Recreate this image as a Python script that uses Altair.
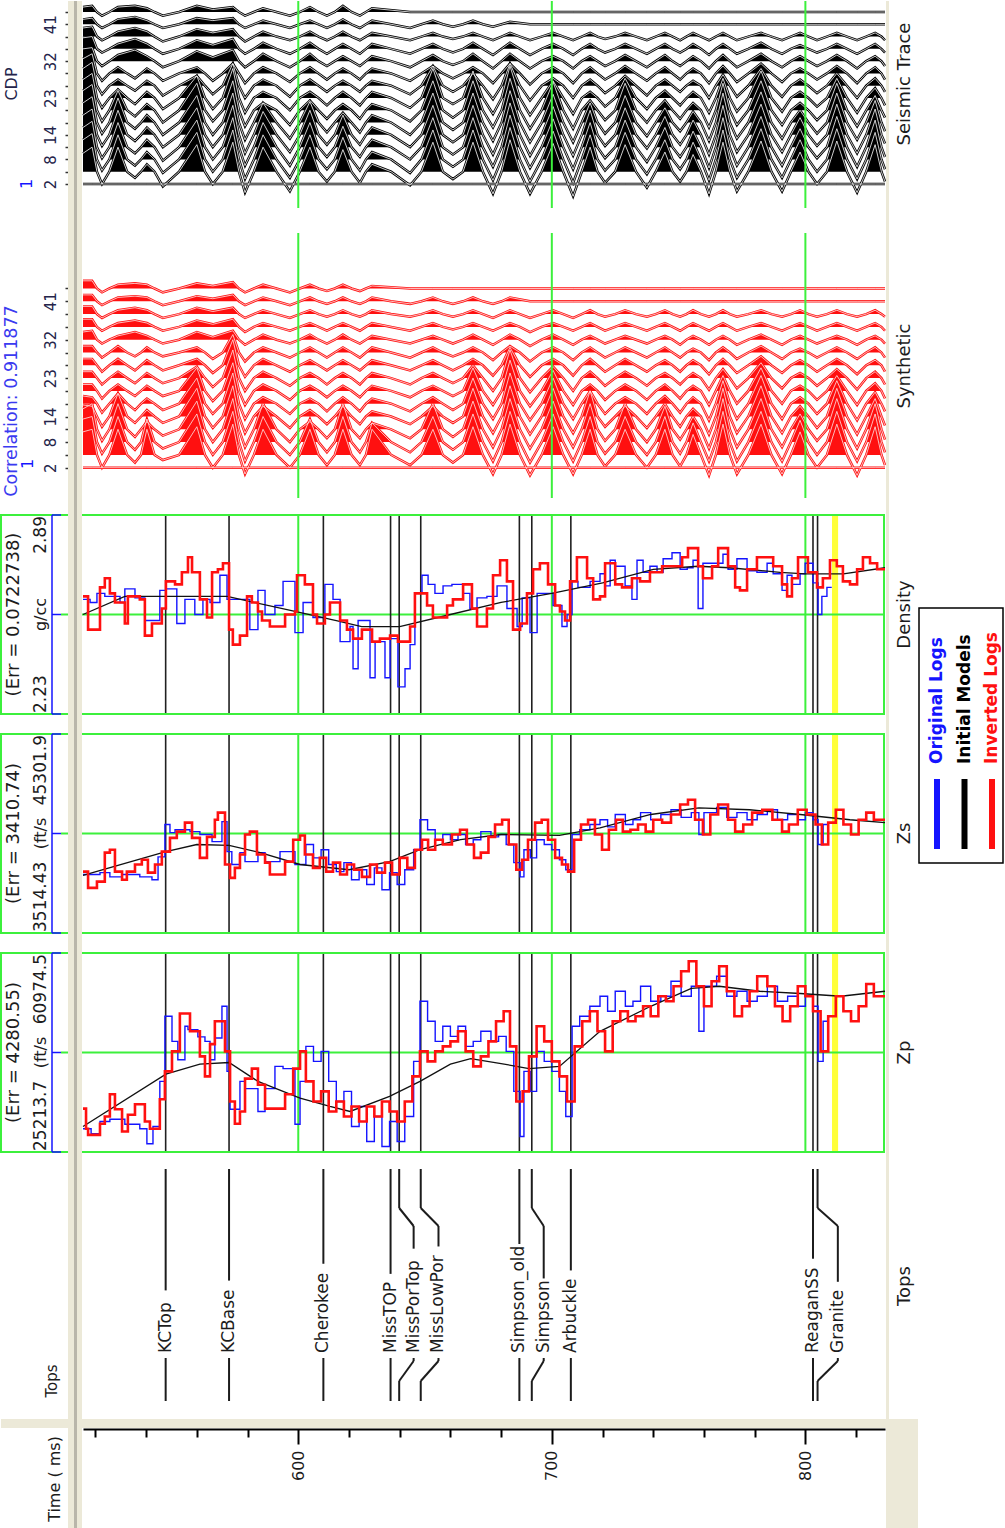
import altair as alt
import pandas as pd

FONT = "DejaVu Sans"
GREEN = "#3cf03c"
BLUE = "#1414ff"
RED = "#ff1010"
BEIGE = "#ece9d8"
INK = "#1c1c1c"
NAVY = "#24244a"

# ------------------------------------------------------------------ time axis
T_MIN, T_MAX = 515.1, 831.4
W = 802
xs = alt.Scale(domain=[T_MIN, T_MAX], nice=False, zero=False)
grid_t = [600, 700, 800]
time_ticks = list(range(520, 821, 20))

# ------------------------------------------------------------------ formation tops
top_names = ["KCTop", "KCBase", "Cherokee", "MissTOP", "MissPorTop", "MissLowPor",
             "Simpson_old", "Simpson", "Arbuckle", "ReaganSS", "Granite"]
top_t = [547.7, 572.7, 609.9, 636.4, 639.8, 648.3, 687.2, 692.1, 707.5, 803.0, 804.8]
top_label_t = [547.7, 572.7, 609.9, 636.4, 645.5, 655.3, 687.2, 696.8, 707.5, 803.0, 812.8]
marker_t = [810.5, 812.9]

# ------------------------------------------------------------------ gathers
trace_cdp = list(range(2, 45, 3))
cdp_labels = [2, 8, 14, 23, 32, 41]

event_t = [515.1, 518.7, 522.6, 528.9, 535.6, 540.3, 546.6, 560.0, 566.3, 574.2,
           579.0, 586.1, 596.7, 604.6, 611.3, 617.6, 624.3, 629.1, 644.1, 653.1,
           661.0, 668.9, 676.8, 683.5, 691.4, 700.5, 708.4, 715.1, 721.0, 728.9,
           737.5, 744.6, 750.6, 755.7, 762.0, 767.5, 773.0, 782.5, 790.8, 797.9,
           804.6, 812.4, 820.4, 827.5, 831.4]
zero_t = [517.0, 520.6, 525.5, 532.5, 538.0, 543.3, 553.0, 563.2, 570.2, 576.6,
          582.5, 591.4, 600.6, 608.0, 614.4, 621.0, 626.7, 636.6, 648.6, 657.0,
          665.0, 672.8, 680.2, 687.4, 696.0, 704.5, 711.8, 718.0, 725.0, 733.2,
          741.0, 747.6, 753.1, 758.8, 764.7, 770.2, 777.5, 786.6, 794.3, 801.2,
          808.5, 816.4, 824.0, 830.0]

# amplitudes at event_t, in trace spacings
seis_amp = {
    5: [1.5, 2.0, -1.0, 2.0, -0.5, 0.6, -1.2, 2.2, -1.0, 2.4,
        -1.7, 2.0, -1.6, 2.0, -0.8, 1.8, -0.9, 0.6, -1.1, 2.4,
        -0.6, 2.4, -1.8, 2.6, -1.8, 2.3, -2.0, 2.0, -0.9, 2.2,
        -1.3, 1.6, -0.8, 1.4, -1.8, 2.4, -1.6, 2.5, -1.6, 1.6,
        -1.0, 2.5, -1.7, 2.2, -0.8],
    8: [1.6, 2.1, -0.9, 2.0, -0.5, 0.6, -1.1, 2.2, -1.0, 2.4,
        -1.6, 2.0, -1.5, 2.0, -0.8, 1.8, -0.9, 0.6, -1.1, 2.4,
        -0.6, 2.4, -1.7, 2.6, -1.8, 2.3, -1.9, 2.0, -0.9, 2.2,
        -1.2, 1.6, -0.8, 1.4, -1.7, 2.4, -1.5, 2.5, -1.5, 1.6,
        -1.0, 2.5, -1.6, 2.2, -0.8],
    11: [1.6, 2.1, -0.9, 2.0, -0.5, 0.6, -1.1, 2.2, -1.0, 2.4,
         -1.5, 2.0, -1.5, 2.0, -0.8, 1.7, -0.8, 0.6, -1.0, 2.4,
         -0.6, 2.4, -1.6, 2.6, -1.7, 2.3, -1.8, 2.0, -0.9, 2.2,
         -1.2, 1.6, -0.8, 1.3, -1.7, 2.4, -1.5, 2.5, -1.5, 1.5,
         -0.9, 2.5, -1.6, 2.2, -0.8],
    14: [1.6, 2.1, -0.9, 2.0, -0.5, 0.6, -1.0, 2.2, -1.0, 2.4,
         -1.5, 1.9, -1.4, 2.0, -0.8, 1.6, -0.8, 0.6, -1.0, 2.4,
         -0.6, 2.4, -1.6, 2.6, -1.7, 2.3, -1.7, 2.0, -0.9, 2.2,
         -1.1, 1.5, -0.8, 1.2, -1.6, 2.4, -1.4, 2.5, -1.4, 1.4,
         -0.9, 2.5, -1.5, 2.1, -0.7],
    17: [1.6, 2.1, -0.9, 2.0, -0.5, 0.6, -1.0, 2.2, -1.0, 2.4,
         -1.4, 1.6, -1.3, 1.7, -0.8, 0.8, -0.8, 0.6, -1.0, 2.4,
         -0.6, 2.4, -1.5, 2.6, -1.6, 2.3, -1.6, 1.6, -0.9, 2.2,
         -1.1, 1.2, -0.7, 0.9, -1.5, 2.4, -1.3, 2.5, -1.3, 1.0,
         -0.9, 2.4, -1.4, 1.8, -0.7],
    20: [1.6, 2.1, -0.9, 1.6, -0.5, 0.5, -1.0, 2.2, -0.9, 2.4,
         -1.3, 0.6, -1.2, 0.8, -0.7, 0.5, -0.7, 0.5, -0.9, 2.4,
         -0.6, 2.4, -1.4, 2.6, -1.5, 2.3, -1.5, 0.8, -0.8, 2.2,
         -1.0, 0.8, -0.7, 0.6, -1.4, 2.2, -1.2, 2.4, -1.2, 0.6,
         -0.8, 2.2, -1.3, 1.2, -0.6],
    23: [1.5, 2.0, -0.8, 0.7, -0.5, 0.5, -0.9, 1.8, -0.9, 2.4,
         -1.2, 0.5, -1.0, 0.5, -0.6, 0.5, -0.6, 0.5, -0.8, 2.4,
         -0.5, 2.2, -1.3, 2.6, -1.4, 1.4, -1.3, 0.5, -0.7, 1.6,
         -0.9, 0.6, -0.6, 0.5, -1.2, 1.6, -1.1, 2.2, -1.1, 0.5,
         -0.7, 1.6, -1.2, 0.8, -0.6],
    26: [1.4, 1.9, -0.7, 0.5, -0.4, 0.4, -0.8, 0.8, -0.7, 1.8,
         -1.0, 0.5, -0.9, 0.5, -0.5, 0.4, -0.5, 0.4, -0.7, 1.6,
         -0.5, 1.0, -1.1, 1.8, -1.2, 0.6, -1.0, 0.5, -0.6, 0.8,
         -0.8, 0.5, -0.5, 0.4, -1.0, 0.9, -0.9, 1.4, -0.9, 0.5,
         -0.6, 1.0, -1.0, 0.6, -0.5],
    29: [1.2, 1.6, -0.6, 0.5, -0.4, 0.4, -0.6, 0.5, -0.6, 0.8,
         -0.8, 0.5, -0.7, 0.5, -0.5, 0.4, -0.5, 0.4, -0.6, 0.6,
         -0.4, 0.5, -0.8, 0.8, -0.9, 0.5, -0.8, 0.5, -0.5, 0.6,
         -0.6, 0.5, -0.5, 0.4, -0.8, 0.6, -0.7, 0.8, -0.7, 0.4,
         -0.5, 0.6, -0.8, 0.5, -0.5],
    32: [1.0, 1.1, -0.4, 0.5, 0.9, 0.4, -0.5, 0.8, 0.3, 0.9,
         -0.5, 0.6, -0.5, 0.6, -0.4, 0.4, -0.4, 0.4, -0.5, 0.5,
         -0.3, 0.6, -0.6, 0.6, -0.6, 0.4, -0.6, 0.4, -0.4, 0.5,
         -0.5, 0.5, -0.4, 0.4, -0.6, 0.5, -0.5, 0.6, -0.5, 0.4,
         -0.4, 0.5, -0.6, 0.4, -0.4],
    35: [0.9, 1.0, -0.3, 0.4, 0.8, 0.4, -0.4, 0.7, 0.3, 0.8,
         -0.4, 0.5, -0.4, 0.5, -0.4, 0.4, -0.4, 0.4, -0.4, 0.4,
         -0.3, 0.5, -0.5, 0.5, -0.5, 0.4, -0.5, 0.4, -0.3, 0.4,
         -0.4, 0.4, -0.3, 0.4, -0.5, 0.4, -0.4, 0.5, -0.4, 0.3,
         -0.3, 0.4, -0.4, 0.4, -0.3],
    38: [0.7, 0.8, -0.3, 0.4, 0.7, 0.4, -0.4, 0.6, 0.3, 0.6,
         -0.4, 0.4, -0.3, 0.4, -0.3, 0.4, -0.3, 0.3, -0.3, 0.3,
         -0.2, 0.3, -0.3, 0.3, -0.3, 0.3, -0.3, 0.3, -0.2, 0.3,
         -0.3, 0.3, -0.3, 0.3, -0.3, 0.3, -0.3, 0.3, -0.3, 0.3,
         -0.3, 0.3, -0.3, 0.3, -0.3],
    41: [0.4, 0.5, -0.3, 0.4, 0.6, 0.3, -0.3, 0.5, 0.3, 0.5,
         -0.3, 0.3, -0.3, 0.3, -0.3, 0.4, -0.3, 0.3, -0.3, 0.3,
         -0.2, 0.3, -0.2, 0.2],
    44: [0.4, 0.5, -0.3, 0.4, 0.5, 0.3, -0.3, 0.5, 0.2, 0.4,
         -0.3, 0.3, -0.3, 0.4, -0.3, 0.5, -0.3, 0.3],
}

syn_amp = {
    5: [1.8, 2.0, -1.0, 2.0, -0.6, 2.0, -0.4, 2.2, -1.0, 2.4,
        -1.5, 2.0, -1.0, 2.0, -0.8, 2.0, -0.8, 2.0, -0.8, 2.0,
        -0.6, 2.2, -1.5, 2.4, -1.6, 2.2, -1.5, 2.0, -0.9, 2.0,
        -1.0, 2.0, -0.9, 1.6, -1.6, 2.4, -1.5, 2.4, -1.5, 1.8,
        -1.0, 2.4, -1.6, 2.2, -0.8],
    8: [1.8, 2.0, -0.9, 2.0, -0.6, 1.8, -0.5, 2.2, -1.0, 2.4,
        -1.5, 2.0, -1.0, 1.8, -0.8, 2.0, -0.8, 1.5, -0.8, 2.0,
        -0.6, 2.2, -1.5, 2.4, -1.6, 2.2, -1.5, 2.0, -0.9, 2.0,
        -1.0, 2.0, -0.9, 1.5, -1.5, 2.4, -1.5, 2.4, -1.5, 1.7,
        -1.0, 2.4, -1.5, 2.2, -0.8],
    11: [1.6, 2.0, -0.9, 2.0, -0.6, 0.6, -0.5, 2.2, -1.0, 2.4,
         -1.4, 2.0, -1.0, 0.6, -0.7, 2.0, -0.7, 0.5, -0.7, 2.0,
         -0.6, 2.2, -1.4, 2.4, -1.5, 2.2, -1.4, 2.0, -0.9, 2.0,
         -1.0, 1.8, -0.8, 1.0, -1.5, 2.4, -1.4, 2.4, -1.4, 1.2,
         -0.9, 2.4, -1.5, 2.0, -0.8],
    14: [0.9, 0.8, -0.8, 1.8, -0.5, 0.5, -0.5, 2.2, -0.9, 2.4,
         -1.3, 0.8, -0.9, 0.5, -0.6, 0.8, -0.6, 0.4, -0.6, 0.8,
         -0.5, 2.2, -1.3, 2.4, -1.4, 2.2, -1.3, 2.0, -0.8, 0.8,
         -0.9, 1.0, -0.8, 0.6, -1.4, 2.2, -1.3, 2.4, -1.3, 0.8,
         -0.9, 2.2, -1.4, 1.4, -0.7],
    17: [0.6, 0.5, -0.7, 0.8, -0.5, 0.4, -0.5, 2.0, -0.8, 2.4,
         -1.2, 0.5, -0.8, 0.4, -0.6, 0.5, -0.6, 0.4, -0.6, 0.5,
         -0.5, 2.0, -1.2, 2.4, -1.3, 2.0, -1.2, 1.0, -0.8, 0.5,
         -0.8, 0.6, -0.7, 0.5, -1.3, 1.8, -1.2, 2.2, -1.2, 0.5,
         -0.8, 1.8, -1.3, 0.9, -0.6],
    20: [0.5, 0.5, -0.6, 0.5, -0.4, 0.4, -0.4, 1.8, -0.8, 2.2,
         -1.1, 0.5, -0.7, 0.4, -0.5, 0.4, -0.5, 0.4, -0.5, 0.4,
         -0.4, 1.8, -1.1, 2.4, -1.2, 1.6, -1.1, 0.5, -0.7, 0.5,
         -0.7, 0.5, -0.6, 0.4, -1.1, 1.2, -1.0, 1.8, -1.0, 0.4,
         -0.7, 1.2, -1.1, 0.6, -0.6],
    23: [0.5, 0.5, -0.5, 0.5, -0.4, 0.4, -0.4, 0.9, -0.7, 2.2,
         -1.0, 0.5, -0.6, 0.4, -0.5, 0.4, -0.5, 0.4, -0.5, 0.4,
         -0.4, 1.0, -1.0, 2.2, -1.1, 0.9, -1.0, 0.5, -0.6, 0.5,
         -0.6, 0.4, -0.5, 0.4, -0.9, 0.7, -0.8, 1.2, -0.8, 0.4,
         -0.6, 0.7, -0.9, 0.5, -0.5],
    26: [0.5, 0.5, -0.5, 0.5, -0.4, 0.4, -0.4, 0.5, -0.6, 2.0,
         -0.9, 0.5, -0.5, 0.4, -0.4, 0.4, -0.4, 0.4, -0.4, 0.4,
         -0.4, 0.5, -0.8, 1.4, -0.9, 0.5, -0.8, 0.5, -0.5, 0.5,
         -0.5, 0.4, -0.5, 0.4, -0.7, 0.5, -0.6, 0.7, -0.6, 0.4,
         -0.5, 0.5, -0.7, 0.4, -0.5],
    29: [0.5, 0.5, -0.4, 0.5, -0.3, 0.4, -0.3, 0.4, -0.5, 1.4,
         -0.7, 0.4, -0.4, 0.4, -0.4, 0.4, -0.4, 0.4, -0.4, 0.4,
         -0.3, 0.4, -0.6, 0.5, -0.7, 0.4, -0.6, 0.4, -0.4, 0.4,
         -0.4, 0.4, -0.4, 0.3, -0.6, 0.4, -0.5, 0.5, -0.5, 0.3,
         -0.4, 0.4, -0.5, 0.4, -0.4],
    32: [0.6, 0.7, -0.3, 0.3, 0.6, 0.3, -0.3, 0.6, 0.2, 0.7,
         -0.4, 0.4, -0.3, 0.4, -0.3, 0.4, -0.3, 0.3, -0.3, 0.3,
         -0.3, 0.4, -0.4, 0.4, -0.5, 0.4, -0.4, 0.3, -0.3, 0.3,
         -0.3, 0.3, -0.4, 0.3, -0.4, 0.3, -0.4, 0.4, -0.4, 0.3,
         -0.3, 0.3, -0.4, 0.3, -0.3],
    35: [0.6, 0.6, -0.3, 0.3, 0.5, 0.3, -0.3, 0.5, 0.2, 0.6,
         -0.4, 0.3, -0.3, 0.3, -0.3, 0.3, -0.3, 0.3, -0.3, 0.3,
         -0.2, 0.3, -0.3, 0.3, -0.4, 0.3, -0.3, 0.3, -0.3, 0.3,
         -0.3, 0.3, -0.3, 0.3, -0.3, 0.3, -0.3, 0.3, -0.3, 0.3,
         -0.3, 0.3, -0.3, 0.3, -0.3],
    38: [0.6, 0.6, -0.3, 0.3, 0.5, 0.3, -0.3, 0.5, 0.2, 0.5,
         -0.3, 0.3, -0.3, 0.3, -0.2, 0.3, -0.2, 0.3, -0.2, 0.3,
         -0.2, 0.3, -0.3, 0.3, -0.3, 0.3, -0.3, 0.3, -0.2, 0.3,
         -0.2, 0.3, -0.2, 0.3, -0.2, 0.3, -0.2, 0.3, -0.2, 0.3,
         -0.2, 0.3, -0.2, 0.3, -0.2],
    41: [0.5, 0.5, -0.3, 0.3, 0.4, 0.3, -0.3, 0.4, 0.2, 0.5,
         -0.3, 0.3, -0.3, 0.3, -0.2, 0.3, -0.2, 0.3, -0.2, 0.3,
         -0.2, 0.3, -0.2, 0.3],
    44: [0.6, 0.6, -0.3, 0.3, 0.4, 0.3, -0.3, 0.4, 0.2, 0.5,
         -0.3, 0.3, -0.3, 0.3, -0.2, 0.3, -0.2, 0.2],
}

# ------------------------------------------------------------------ well logs (time ms, value)
dens_orig = [(515.1, 2.61), (517.9, 2.60), (520.6, 2.63), (523.7, 2.62), (529.7, 2.60), (531.6, 2.645),
             (535.6, 2.615), (539.5, 2.54), (545.4, 2.64), (547.8, 2.645), (552.1, 2.53), (555.3, 2.61),
             (559.2, 2.56), (562.4, 2.61), (565.2, 2.60), (569.1, 2.69), (571.9, 2.61), (580.9, 2.51),
             (584.1, 2.64), (586.9, 2.56), (590.8, 2.59), (594.0, 2.67), (598.7, 2.50), (601.9, 2.60),
             (605.8, 2.55), (610.5, 2.66), (613.7, 2.61), (616.5, 2.47), (620.4, 2.52), (621.6, 2.38),
             (623.6, 2.54), (628.3, 2.35), (630.3, 2.47), (634.2, 2.35), (636.2, 2.48), (639.3, 2.32),
             (642.1, 2.38), (644.1, 2.46), (646.0, 2.63), (648.8, 2.69), (651.2, 2.66), (653.9, 2.63),
             (657.1, 2.655), (660.6, 2.66), (665.0, 2.63), (667.7, 2.58), (670.5, 2.615), (674.4, 2.62),
             (678.4, 2.655), (682.3, 2.58), (686.3, 2.52), (688.3, 2.615), (691.4, 2.50), (694.2, 2.63),
             (700.5, 2.59), (704.0, 2.52), (706.0, 2.56), (708.0, 2.67), (710.3, 2.65), (715.1, 2.67),
             (719.0, 2.695), (721.0, 2.655), (723.0, 2.74), (725.0, 2.72), (728.9, 2.655), (731.6, 2.61),
             (733.6, 2.74), (736.0, 2.70), (738.7, 2.72), (741.5, 2.70), (743.9, 2.745), (747.4, 2.765),
             (750.6, 2.71), (753.4, 2.715), (755.7, 2.74), (757.7, 2.58), (759.6, 2.73), (767.5, 2.76),
             (769.5, 2.71), (773.0, 2.745), (777.0, 2.705), (780.9, 2.70), (784.9, 2.73), (787.3, 2.695),
             (790.8, 2.64), (792.8, 2.69), (794.7, 2.66), (797.9, 2.695), (799.9, 2.73), (803.0, 2.665),
             (805.0, 2.56), (806.5, 2.62), (808.5, 2.65)]
dens_init = [(515.1, 2.56), (531.6, 2.62), (560.0, 2.62), (572.0, 2.62), (598.7, 2.57), (615.0, 2.54),
             (625.0, 2.52), (640.0, 2.52), (660.0, 2.56), (680.0, 2.60), (700.0, 2.63), (720.0, 2.665),
             (740.0, 2.71), (757.7, 2.72), (770.0, 2.715), (790.0, 2.70), (800.0, 2.695), (815.0, 2.695),
             (831.4, 2.715)]
dens_inv = [(515.1, 2.62), (517.1, 2.51), (521.8, 2.65), (523.7, 2.68), (525.7, 2.63), (527.7, 2.60),
            (531.6, 2.53), (532.8, 2.62), (537.5, 2.61), (539.5, 2.49), (542.3, 2.53), (546.2, 2.58),
            (547.8, 2.67), (551.4, 2.66), (554.1, 2.70), (556.5, 2.75), (558.1, 2.70), (561.2, 2.61),
            (564.0, 2.55), (566.0, 2.70), (568.3, 2.71), (570.3, 2.73), (572.7, 2.51), (574.2, 2.46),
            (577.0, 2.49), (579.8, 2.62), (581.7, 2.60), (584.1, 2.57), (585.7, 2.54), (588.8, 2.52),
            (594.8, 2.56), (598.7, 2.57), (599.5, 2.69), (602.6, 2.66), (605.8, 2.56), (607.4, 2.53),
            (610.5, 2.56), (612.5, 2.60), (616.5, 2.54), (619.2, 2.51), (621.6, 2.48), (625.1, 2.51),
            (629.1, 2.47), (632.2, 2.48), (636.2, 2.49), (639.3, 2.47), (644.1, 2.52), (646.0, 2.63),
            (650.8, 2.59), (653.1, 2.55), (658.7, 2.59), (661.0, 2.61), (665.0, 2.66), (668.5, 2.58),
            (670.5, 2.52), (674.4, 2.58), (676.8, 2.69), (679.6, 2.74), (682.3, 2.67), (684.7, 2.51),
            (687.5, 2.53), (690.2, 2.63), (692.6, 2.71), (695.3, 2.73), (698.5, 2.66), (701.3, 2.59),
            (703.2, 2.57), (705.2, 2.54), (707.2, 2.67), (709.9, 2.75), (713.9, 2.68), (716.3, 2.61),
            (719.0, 2.62), (721.0, 2.73), (725.0, 2.66), (727.7, 2.65), (731.6, 2.68), (734.8, 2.67),
            (738.7, 2.70), (743.5, 2.72), (751.4, 2.75), (753.7, 2.78), (757.7, 2.72), (759.6, 2.68),
            (763.2, 2.72), (765.6, 2.78), (769.5, 2.72), (772.3, 2.65), (774.2, 2.64), (777.0, 2.71),
            (780.9, 2.75), (787.3, 2.72), (790.8, 2.66), (792.8, 2.62), (794.7, 2.68), (797.1, 2.75),
            (801.0, 2.70), (804.6, 2.65), (806.9, 2.68), (809.7, 2.74), (812.4, 2.72), (814.8, 2.67),
            (817.6, 2.66), (820.4, 2.71), (822.7, 2.75), (825.5, 2.73), (828.3, 2.71)]

zs_orig = [(515.1, 15800), (521.8, 16200), (525.7, 15300), (530.5, 15800), (537.5, 15300), (542.3, 14700),
           (544.7, 19500), (547.4, 26300), (549.4, 24600), (551.4, 25200), (557.3, 24800), (561.2, 24200),
           (566.0, 22700), (569.9, 26900), (571.9, 20600), (573.8, 17900), (577.0, 20400), (579.0, 18500),
           (584.1, 20400), (586.9, 18500), (592.8, 20600), (598.7, 17900), (603.0, 22100), (606.0, 19300),
           (609.0, 21000), (612.0, 17900), (615.0, 16400), (618.0, 18300), (621.0, 14700), (624.0, 16800),
           (627.0, 13700), (630.0, 17200), (633.0, 12600), (636.0, 16200), (639.0, 13700), (642.0, 16800),
           (645.5, 21000), (648.0, 27300), (651.0, 25200), (654.0, 23100), (657.0, 24200), (660.0, 23100),
           (663.0, 24200), (666.0, 22100), (669.0, 23100), (672.0, 24800), (676.0, 23700), (679.0, 24200),
           (682.0, 22100), (685.0, 18300), (687.5, 15300), (689.0, 21000), (691.5, 19300), (694.0, 23100),
           (697.0, 22100), (700.0, 21000), (703.0, 18900), (705.5, 16800), (708.0, 24200), (711.0, 25200),
           (715.0, 26300), (719.0, 27300), (722.0, 25800), (725.0, 28400), (729.0, 26300), (732.0, 27300),
           (735.0, 28800), (739.0, 27300), (743.0, 28400), (747.0, 29400), (751.0, 27800), (755.0, 28800),
           (758.0, 24200), (760.0, 28800), (765.0, 29900), (769.0, 27800), (773.0, 28800), (777.0, 27300),
           (781.0, 28400), (785.0, 29400), (789.0, 27300), (793.0, 28400), (797.0, 27300), (800.0, 28800),
           (803.0, 27300), (805.0, 22100), (807.0, 26300)]
zs_init = [(515.1, 15600), (547.8, 20600), (560.0, 22100), (572.7, 21900), (585.0, 20400), (600.7, 17900),
           (620.0, 16800), (636.0, 18500), (648.0, 21000), (664.0, 23100), (680.0, 24200), (703.0, 24000),
           (719.0, 25600), (739.0, 28400), (758.0, 29800), (778.0, 29400), (798.0, 28400), (817.6, 27300),
           (831.4, 26700)]
zs_inv = [(515.1, 16400), (517.1, 13000), (520.6, 14300), (523.7, 20400), (525.7, 21000), (527.7, 16400),
          (530.5, 14700), (532.4, 16400), (535.6, 17900), (538.3, 18900), (540.7, 16200), (543.5, 17900),
          (546.2, 20600), (549.4, 23500), (552.1, 24800), (555.3, 26700), (558.1, 23500), (561.2, 19300),
          (564.0, 23700), (567.1, 27300), (568.3, 28800), (571.1, 17900), (573.1, 15100), (575.0, 17200),
          (577.0, 20000), (579.0, 24200), (580.9, 24800), (583.7, 20000), (586.9, 18300), (588.8, 15800),
          (594.8, 18500), (598.0, 23100), (600.7, 24000), (602.6, 20000), (605.8, 17200), (608.5, 19300),
          (611.0, 16400), (613.7, 18300), (616.5, 15800), (619.2, 17900), (622.0, 16800), (625.1, 15300),
          (628.3, 17900), (631.0, 16200), (634.2, 18300), (637.0, 15800), (640.0, 19300), (643.0, 17200),
          (646.0, 21000), (648.8, 23100), (651.2, 21000), (654.0, 23100), (657.0, 22100), (660.6, 24200),
          (663.8, 25200), (666.5, 22100), (669.3, 19300), (672.0, 20400), (675.0, 23700), (677.6, 26300),
          (680.4, 27300), (683.0, 22100), (686.0, 16800), (688.3, 18900), (690.6, 23100), (693.4, 26700),
          (696.0, 27300), (698.5, 23100), (701.3, 19300), (704.0, 17900), (706.4, 16400), (708.8, 23100),
          (711.5, 26300), (714.3, 27300), (717.0, 24200), (719.8, 21000), (722.5, 25200), (725.3, 27300),
          (728.0, 24800), (731.0, 25200), (734.0, 26300), (737.0, 24800), (740.0, 27300), (743.5, 26700),
          (747.0, 28400), (750.6, 30500), (753.7, 31500), (756.5, 27300), (759.6, 24200), (762.5, 28400),
          (765.6, 30500), (769.5, 27300), (772.3, 24800), (775.5, 26300), (779.0, 28800), (783.0, 29400),
          (787.0, 27300), (790.8, 24800), (793.5, 26300), (797.0, 29400), (800.5, 28400), (804.0, 26300),
          (806.5, 22100), (809.0, 26700), (812.0, 29400), (815.0, 26300), (818.0, 24200), (821.0, 27300),
          (824.0, 28800), (827.0, 27300)]

zp_orig = [(515.1, 29400), (518.3, 28500), (521.8, 30700), (525.7, 31100), (531.6, 30200), (537.5, 29400),
           (540.3, 26700), (542.7, 29800), (545.4, 37900), (547.4, 49600), (550.2, 45100), (552.5, 41800),
           (555.3, 47800), (556.5, 47200), (560.4, 45900), (563.2, 45100), (565.2, 41800), (567.1, 45700),
           (569.9, 51400), (571.9, 39700), (573.1, 32900), (577.0, 37900), (579.0, 36600), (584.1, 32500),
           (586.9, 36600), (590.8, 40600), (594.0, 40200), (598.7, 30200), (600.7, 37900), (603.0, 44200),
           (606.0, 41500), (609.0, 43300), (612.0, 37900), (615.0, 34300), (618.0, 36100), (621.0, 29800),
           (624.0, 33400), (627.0, 27100), (630.0, 31600), (633.0, 26200), (636.0, 30700), (639.0, 27100),
           (642.0, 31600), (645.5, 41500), (648.0, 52300), (651.0, 48700), (654.0, 45100), (657.0, 47800),
           (660.0, 46000), (663.0, 47800), (666.0, 44200), (669.0, 45100), (672.0, 46900), (676.0, 45100),
           (679.0, 46000), (682.0, 43300), (685.0, 36100), (687.5, 28000), (689.0, 39700), (691.5, 36100),
           (694.0, 43300), (697.0, 41500), (700.0, 39700), (703.0, 36100), (705.5, 31600), (708.0, 47800),
           (711.0, 49600), (715.0, 51400), (719.0, 53200), (722.0, 50500), (725.0, 54100), (729.0, 51400),
           (732.0, 52300), (735.0, 55000), (739.0, 52300), (743.0, 53200), (747.0, 55900), (751.0, 53200),
           (755.0, 55000), (758.0, 46900), (760.0, 55000), (765.0, 56800), (769.0, 53200), (773.0, 54100),
           (777.0, 52300), (781.0, 53200), (785.0, 55000), (789.0, 52300), (793.0, 53200), (797.0, 51400),
           (800.0, 53200), (803.0, 51400), (805.0, 41500), (807.0, 48700)]
zp_init = [(515.1, 29800), (547.8, 39200), (561.2, 41000), (572.7, 41300), (584.1, 37900), (600.7, 34900),
           (612.5, 33400), (620.4, 32500), (636.0, 35200), (648.0, 37900), (660.0, 41000), (668.0, 42000),
           (680.0, 41100), (691.0, 40200), (703.0, 40600), (719.0, 46900), (739.0, 51400), (755.0, 54600),
           (766.0, 55000), (782.0, 54100), (798.0, 53700), (814.0, 53200), (831.4, 54100)]
zp_inv = [(515.1, 33000), (516.3, 29400), (517.1, 28300), (521.8, 30300), (523.7, 31600), (525.7, 35600),
          (527.7, 32900), (530.5, 28900), (532.8, 31900), (535.6, 33800), (539.5, 30700), (541.5, 29400),
          (545.4, 34700), (547.4, 39700), (550.2, 43300), (553.3, 50100), (557.3, 46900), (561.2, 42400),
          (563.2, 38800), (565.2, 44600), (567.1, 48700), (571.1, 43300), (573.1, 34300), (575.0, 30300),
          (577.0, 32500), (579.0, 38400), (581.7, 40200), (584.1, 37300), (586.9, 33000), (594.8, 35600),
          (598.0, 40200), (600.7, 43300), (603.0, 37900), (606.0, 34300), (609.0, 36100), (612.0, 32500),
          (615.0, 34300), (618.0, 31600), (621.0, 33400), (624.0, 30700), (627.0, 33400), (630.0, 31600),
          (633.0, 34300), (636.0, 32500), (639.0, 30700), (642.0, 34300), (645.0, 38800), (648.0, 43300),
          (651.0, 41500), (654.0, 43300), (657.0, 44200), (660.0, 45100), (663.0, 46900), (666.0, 43300),
          (669.0, 40600), (672.0, 42400), (675.0, 45100), (678.0, 48700), (681.0, 50500), (683.5, 44200),
          (686.0, 34300), (688.5, 36100), (691.0, 42400), (694.0, 47800), (697.0, 45100), (700.0, 41500),
          (703.0, 38800), (706.0, 34300), (709.0, 44200), (712.0, 48700), (715.0, 50500), (718.0, 46900),
          (721.0, 43300), (724.0, 48700), (727.0, 50500), (730.0, 48700), (733.0, 49600), (736.0, 51400),
          (739.0, 49600), (742.0, 53200), (745.0, 52300), (748.0, 55000), (751.0, 57700), (754.0, 59500),
          (757.0, 55000), (760.0, 51400), (763.0, 55900), (766.0, 58600), (769.0, 54100), (772.0, 49600),
          (775.0, 51400), (778.0, 54100), (781.0, 56800), (785.0, 55000), (788.0, 51400), (791.0, 48700),
          (794.0, 51400), (797.0, 55000), (800.0, 53200), (803.0, 50500), (806.0, 43300), (809.0, 49600),
          (812.0, 53200), (815.0, 50500), (818.0, 48700), (821.0, 51400), (824.0, 55400), (827.0, 53200)]

legend_items = [("Original Logs", BLUE), ("Initial Models", "black"), ("Inverted Logs", RED)]

ONE = pd.DataFrame({"k": [0]})
X_T = alt.X("t:Q", scale=xs, axis=None)


def text_at(text, x, y, size=17, color=INK, align="center", weight="normal", baseline="middle"):
    return alt.Chart(ONE).mark_text(text=text, angle=270, align=align, baseline=baseline, fontSize=size,
                                    font=FONT, color=color, fontWeight=weight).encode(
        x=alt.value(x), y=alt.value(y))


def rect_at(x, x2, y, y2, color):
    return alt.Chart(ONE).mark_rect(color=color).encode(
        x=alt.value(x), x2=alt.value(x2), y=alt.value(y), y2=alt.value(y2))


def grid_rules(y, y2):
    return alt.Chart(pd.DataFrame({"t": grid_t})).mark_rule(color=GREEN, strokeWidth=2).encode(
        x=X_T, y=alt.value(y), y2=alt.value(y2))


# ------------------------------------------------------------------ gather panels
def trace_frame(amp_rows):
    rows = []
    n = len(event_t)
    for cdp in trace_cdp:
        amps = list(amp_rows.get(cdp, []))
        amps += [0.0] * (n - len(amps))
        for i in range(n):
            rows.append((cdp, event_t[i], amps[i]))
            if i < n - 1 and amps[i] * amps[i + 1] < 0:
                rows.append((cdp, zero_t[i], 0.0))
    df = pd.DataFrame(rows, columns=["cdp", "t", "a"])
    df["yl"] = df["cdp"] + 3.0 * df["a"]
    df["yf"] = df["cdp"] + 3.0 * df["a"].clip(lower=0)
    return df


def trace_panel(amp_rows, color, core, H, y2px, y44px, g0, g1, extra):
    ppc = (y2px - y44px) / 42.0
    ys = alt.Scale(domain=[2 - (H - y2px) / ppc, 44 + y44px / ppc], nice=False, zero=False)
    df = trace_frame(amp_rows)
    lab_expr = "indexof(%s, datum.value) >= 0 ? datum.label : ''" % str(cdp_labels)
    axis = alt.Axis(values=trace_cdp, labelExpr=lab_expr, orient="left", offset=15, tickSize=3,
                    tickColor="#333333", tickWidth=1.5, domain=False, grid=False, labelAngle=270,
                    labelAlign="center", labelBaseline="bottom", labelPadding=7, labelFontSize=15,
                    labelFont=FONT, labelColor=NAVY, labelOverlap=False, labelFlush=False, title=None)
    fill = alt.Chart(df).mark_area(color=color, interpolate="linear").encode(
        x=X_T, y=alt.Y("yf:Q", scale=ys, axis=axis), y2=alt.Y2("cdp:Q"), detail="cdp:N")
    outer = alt.Chart(df).mark_line(color=color, strokeWidth=2.5).encode(
        x=X_T, y=alt.Y("yl:Q", scale=ys, axis=axis), detail="cdp:N")
    inner = alt.Chart(df).mark_line(color=core, strokeWidth=0.8).encode(
        x=X_T, y=alt.Y("yl:Q", scale=ys, axis=axis), detail="cdp:N")
    return alt.layer(fill, outer, inner, grid_rules(g0, g1), *extra).properties(width=W, height=H)


seis = trace_panel(seis_amp, "black", "white", 210, 183.0, 11.0, 0, 207, [
    text_at("CDP", -71, 83, size=16, color=NAVY),
    text_at("1", -56, 183, size=16, color=BLUE),
    text_at("Seismic Trace", 822, 83, size=18),
])
syn = trace_panel(syn_amp, RED, "#ffe4e4", 264, 236.7, 57.5, 2, 267, [
    text_at("Correlation: 0.911877", -71, 170, size=17.5, color="#3a3af0"),
    text_at("1", -55, 233, size=16, color=BLUE),
    text_at("Synthetic", 822, 135, size=18),
])


# ------------------------------------------------------------------ log panels
def step_frame(pairs, t_end):
    df = pd.DataFrame(pairs, columns=["t", "v"])
    tail = pd.DataFrame({"t": [t_end], "v": [df["v"].iloc[-1]]})
    return pd.concat([df, tail], ignore_index=True)


def log_panel(vmin, vmax, lo_txt, unit, hi_txt, err_txt, title, orig, init, inv, extra=()):
    H = 199
    ys = alt.Scale(domain=[vmin, vmax], nice=False, zero=False)
    mid = (vmin + vmax) / 2.0
    Y = alt.Y("v:Q", scale=ys, axis=None)
    marks = pd.DataFrame({"v": [vmin, mid, vmax]})
    layers = [
        alt.Chart(pd.DataFrame({"t": [marker_t[0]], "t2": [marker_t[1]]})).mark_rect(color="#ffff3a").encode(
            x=X_T, x2="t2:Q", y=alt.value(0), y2=alt.value(H)),
        grid_rules(0, H),
        alt.Chart(pd.DataFrame({"v": [mid]})).mark_rule(color=GREEN, strokeWidth=2).encode(
            x=alt.value(-22), x2=alt.value(W - 1), y=Y),
        alt.Chart(pd.DataFrame({"t": top_t})).mark_rule(color="#202020", strokeWidth=1.6).encode(
            x=X_T, y=alt.value(0), y2=alt.value(H)),
        alt.Chart(ONE).mark_rect(fill="transparent", stroke=GREEN, strokeWidth=2).encode(
            x=alt.value(-82), x2=alt.value(W - 1), y=alt.value(0), y2=alt.value(H)),
        alt.Chart(ONE).mark_rule(color=BLUE, strokeWidth=1.5).encode(
            x=alt.value(-31), y=alt.value(0), y2=alt.value(H)),
        alt.Chart(marks).mark_rule(color=BLUE, strokeWidth=1.5).encode(
            x=alt.value(-31), x2=alt.value(-22), y=Y),
        alt.Chart(step_frame(orig, orig[-1][0] + 1.9)).mark_line(
            interpolate="step-after", color=BLUE, strokeWidth=1.4).encode(x=X_T, y=Y),
        alt.Chart(pd.DataFrame(init, columns=["t", "v"])).mark_line(
            color="#111111", strokeWidth=1.3).encode(x=X_T, y=Y),
        alt.Chart(step_frame(inv, T_MAX)).mark_line(
            interpolate="step-after", color=RED, strokeWidth=2.6).encode(x=X_T, y=Y),
        text_at(err_txt, -69, H / 2, size=18),
        text_at(lo_txt, -42, H - 1, align="left"),
        text_at(unit, -42, H / 2, size=16),
        text_at(hi_txt, -42, 1, align="right"),
        text_at(title, 822, H / 2, size=18),
    ]
    return alt.layer(*layers, *extra).properties(width=W, height=H)


legend_layers = []
for i, (name, col) in enumerate(legend_items):
    lx = 854 + i * 27.5
    legend_layers.append(text_at(name, lx, 249, size=17, color=col, align="left", weight="bold"))
    legend_layers.append(alt.Chart(ONE).mark_rule(color=col, strokeWidth=6).encode(
        x=alt.value(lx), y=alt.value(264), y2=alt.value(334)))
legend_box = alt.Chart(ONE).mark_rect(fill="white", stroke="black", strokeWidth=1.5).encode(
    x=alt.value(836), x2=alt.value(920), y=alt.value(93), y2=alt.value(348))

dens = log_panel(2.23, 2.89, "2.23", "g/cc", "2.89", "(Err = 0.0722738)", "Density",
                 dens_orig, dens_init, dens_inv, [legend_box] + legend_layers)
zs = log_panel(3514.43, 45301.9, "3514.43", "(ft/s", "45301.9", "(Err = 3410.74)", "Zs",
               zs_orig, zs_init, zs_inv)
zp = log_panel(25213.7, 60974.5, "25213.7", "(ft/s", "60974.5", "(Err = 4280.55)", "Zp",
               zp_orig, zp_init, zp_inv)

# ------------------------------------------------------------------ tops panel + time axis
# DejaVu Sans advance widths (per 1000 em) for label-gap sizing
GLYPH_W = {"A": 684, "B": 686, "C": 698, "G": 775, "K": 656, "L": 557, "M": 863, "O": 787, "P": 603,
           "R": 695, "S": 635, "T": 611, "_": 500, "a": 613, "b": 635, "c": 550, "d": 635, "e": 615,
           "g": 635, "h": 634, "i": 278, "k": 579, "l": 278, "n": 634, "o": 612, "p": 635, "r": 411,
           "s": 521, "t": 392, "u": 634, "w": 818}
TOP_FS = 17


def text_px(s):
    return TOP_FS * sum(GLYPH_W.get(c, 600) for c in s) / 1000.0


TH = 247
tops = pd.DataFrame({"name": top_names, "t": top_t, "lt": top_label_t})
tops["ya"] = 54.0
tops["yb"] = 181.0 - tops["name"].map(text_px) - 8.0

tick_size = {"condition": {"test": "datum.value % 100 === 0", "value": 15}, "value": 8}
time_axis = alt.Axis(values=time_ticks, format="d", labelExpr="datum.value % 100 === 0 ? datum.label : ''",
                     orient="bottom", offset=10, tickSize=tick_size, tickWidth=2, tickColor="black",
                     domainColor="black", domainWidth=2, labelAngle=270, labelAlign="right",
                     labelBaseline="middle", labelFontSize=16, labelFont=FONT, labelColor=INK,
                     labelPadding=6, labelOverlap=False, labelFlush=False, grid=False, title=None)

XT = alt.X("t:Q", scale=xs, axis=time_axis)
XL = alt.X("lt:Q", scale=xs, axis=time_axis)
tops_layers = [
    alt.Chart(tops).mark_rule(color=INK, strokeWidth=2).encode(x=XT, y=alt.value(-3), y2=alt.value(36)),
    alt.Chart(tops).mark_rule(color=INK, strokeWidth=2).encode(
        x=XT, x2="lt:Q", y=alt.value(36), y2=alt.value(54)),
    alt.Chart(tops).mark_rule(color=INK, strokeWidth=2).encode(
        x=XL, y=alt.Y("ya:Q", scale=None, axis=None), y2="yb:Q"),
    alt.Chart(tops).mark_text(angle=270, align="left", baseline="middle", fontSize=TOP_FS, font=FONT,
                              color=INK).encode(x=XL, y=alt.value(181), text="name:N"),
    alt.Chart(tops).mark_rule(color=INK, strokeWidth=2).encode(x=XL, y=alt.value(186), y2=alt.value(189)),
    alt.Chart(tops).mark_rule(color=INK, strokeWidth=2).encode(
        x=XL, x2="t:Q", y=alt.value(189), y2=alt.value(209)),
    alt.Chart(tops).mark_rule(color=INK, strokeWidth=2).encode(x=XT, y=alt.value(209), y2=alt.value(229)),
    text_at("Tops", -31, 209, size=15),
    text_at("Tops", 822, 114, size=18),
    text_at("Time ( ms)", -28, 307, size=16),
    # window frame: splitters and bottom strip
    rect_at(-82, W + 2, TH, TH + 9, BEIGE),
    rect_at(W + 1, 835, TH, 357, BEIGE),
    rect_at(-15, -1, -1171, 357, BEIGE),
    rect_at(-9, -6, -1171, 357, "#b9b6aa"),
    rect_at(W + 1, W + 4, -1171, TH, BEIGE),
]
tops_panel = alt.layer(*tops_layers).properties(width=W, height=TH)

chart = alt.vconcat(seis, syn, dens, zs, zp, tops_panel, spacing=20, bounds="flush").resolve_scale(
    x="shared", y="independent").properties(padding=0, background="white").configure_view(stroke=None)

chart.save("out.html", embed_options={"renderer": "svg", "actions": False})
